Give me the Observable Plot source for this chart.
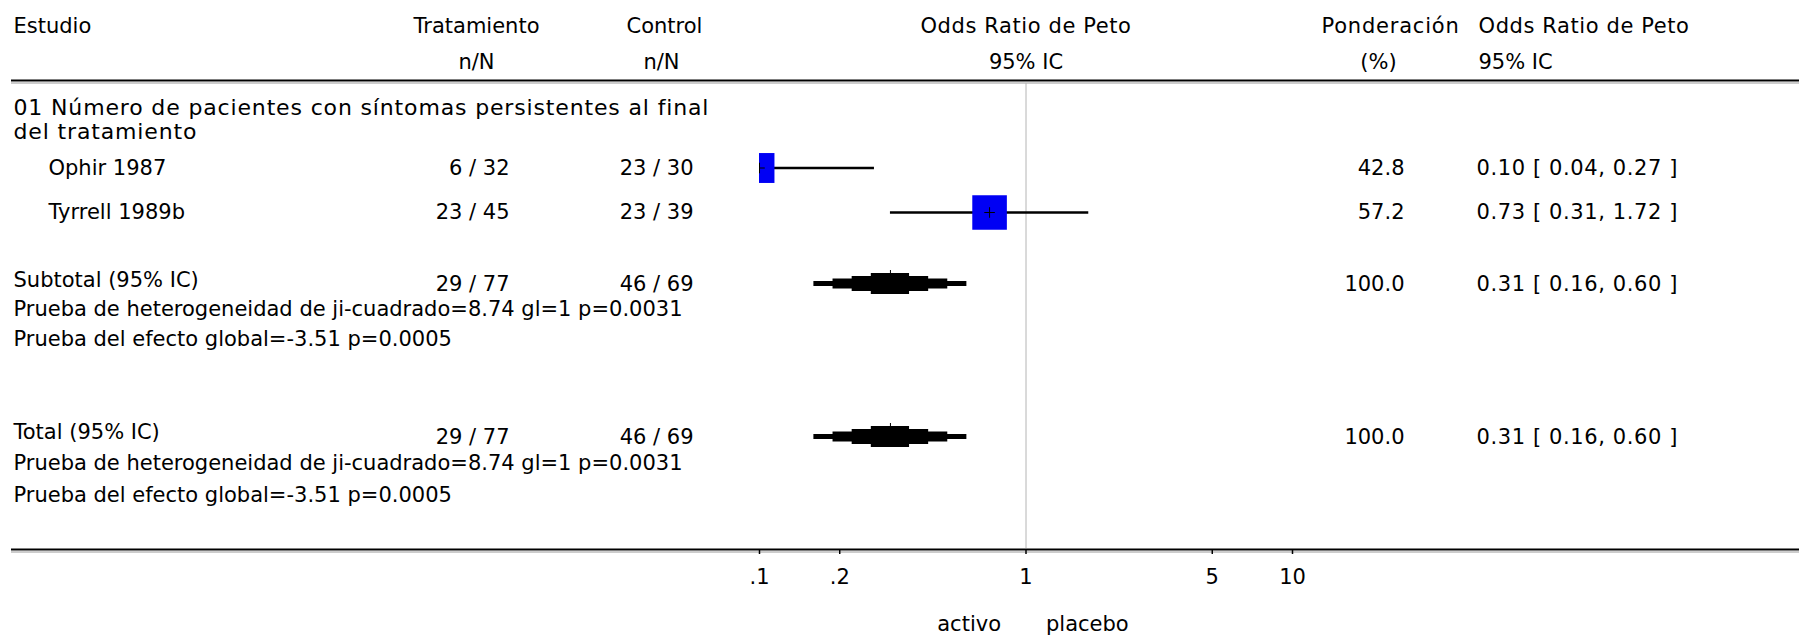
<!DOCTYPE html>
<html>
<head>
<meta charset="utf-8">
<script src="https://cdn.jsdelivr.net/npm/d3@7"></script>
<script src="https://cdn.jsdelivr.net/npm/@observablehq/plot@0.6"></script>
<style>
  html, body { margin: 0; padding: 0; background: #fff; }
  #chart svg { display: block; background: linear-gradient(to right, #808080 0, #808080 11px, #ffffff 11px); }
</style>
</head>
<body>
<div id="chart"></div>
<script>
// ---------- DATA ----------
const studies      = ["Ophir 1987", "Tyrrell 1989b"];
const treatEvents  = [6, 23];
const treatTotal   = [32, 45];
const ctrlEvents   = [23, 23];
const ctrlTotal    = [30, 39];
const weights      = [42.8, 57.2];
const oddsRatio    = [0.10, 0.73];
const ciLow        = [0.04, 0.31];
const ciHigh       = [0.27, 1.72];

const pooledLabels      = ["Subtotal (95% IC)", "Total (95% IC)"];
const pooledTreatEvents = [29, 29];
const pooledTreatTotal  = [77, 77];
const pooledCtrlEvents  = [46, 46];
const pooledCtrlTotal   = [69, 69];
const pooledWeight      = [100.0, 100.0];
const pooledOR          = [0.31, 0.31];
const pooledLow         = [0.16, 0.16];
const pooledHigh        = [0.60, 0.60];
const hetChi2 = ["8.74", "8.74"], hetDf = ["1", "1"], hetP = ["0.0031", "0.0031"];
const effZ = ["-3.51", "-3.51"], effP = ["0.0005", "0.0005"];

const sectionTitle = ["01 Número de pacientes con síntomas persistentes al final", "del tratamiento"];
const headerLine1 = ["Estudio", "Tratamiento", "Control", "Odds Ratio de Peto", "Ponderación", "Odds Ratio de Peto"];
const headerLine2 = ["", "n/N", "n/N", "95% IC", "(%)", "95% IC"];

const tickValues = [0.1, 0.2, 1, 5, 10];
const tickLabels = [".1", ".2", "1", "5", "10"];
const sideLabels = ["activo", "placebo"];

// ---------- LAYOUT ----------
const W = 1799, H = 638;
const ML = 759, MR = 507, MB = 89;           // frame = forest plot area (clip region)
const ROW = {
  h1: 26, h2: 62, topRule: 80,
  sec: [107, 131],
  study: [167.5, 212],
  pooledLabel: [280, 432], pooled: [283.5, 436.5],
  het: [309, 463], eff: [339, 495],
  axis: 549, side: 624
};
const COL = { left: 13, study: 48, treatHead: 476, treat: 509, ctrlHead: 664, ctrlSub: 661, ctrl: 693,
              weightHead: 1390, weightSub: 1378, weight: 1404, orHead: 1478, orText: 1476 };
const at = px => px - ML;
const FONT = "DejaVu Sans";
const FS = 21;

const fmtOR = (o, l, h) => `${o.toFixed(2)} [ ${l.toFixed(2)}, ${h.toFixed(2)} ]`;

const studyRows = studies.map((s, i) => ({
  label: s, treat: `${treatEvents[i]} / ${treatTotal[i]}`, ctrl: `${ctrlEvents[i]} / ${ctrlTotal[i]}`,
  w: weights[i], wText: weights[i].toFixed(1), or: oddsRatio[i], lo: ciLow[i], hi: ciHigh[i],
  orText: fmtOR(oddsRatio[i], ciLow[i], ciHigh[i]), y: ROW.study[i]
}));
const pooledRows = pooledLabels.map((s, i) => ({
  label: s, treat: `${pooledTreatEvents[i]} / ${pooledTreatTotal[i]}`, ctrl: `${pooledCtrlEvents[i]} / ${pooledCtrlTotal[i]}`,
  wText: pooledWeight[i].toFixed(1), or: pooledOR[i], lo: pooledLow[i], hi: pooledHigh[i],
  orText: fmtOR(pooledOR[i], pooledLow[i], pooledHigh[i]),
  yl: ROW.pooledLabel[i], y: ROW.pooled[i],
  het: `Prueba de heterogeneidad de ji-cuadrado=${hetChi2[i]} gl=${hetDf[i]} p=${hetP[i]}`, yh: ROW.het[i],
  eff: `Prueba del efecto global=${effZ[i]} p=${effP[i]}`, ye: ROW.eff[i]
}));
// stepped diamond glyph: half-heights (px) per step, from tip to centre
const stepHalf = [2.5, 5, 7.5, 10.5];
const diamonds = pooledRows.flatMap((d, g) => {
  const L = Math.log(d.lo), C = Math.log(d.or), R = Math.log(d.hi);
  const pts = [];
  for (let k = 0; k < 4; k++) pts.push({ g, x: Math.exp(L + (C - L) * k / 4), h: stepHalf[k] });
  for (let k = 1; k < 4; k++) pts.push({ g, x: Math.exp(C + (R - C) * k / 4), h: stepHalf[3 - k] });
  pts.push({ g, x: d.hi, h: stepHalf[0] });
  return pts.map(p => ({ ...p, y1: d.y - p.h, y2: d.y + p.h }));
});
const tickMap = new Map(tickValues.map((v, i) => [v, tickLabels[i]]));

const txt = (data, o) => Plot.text(data, { frameAnchor: "left", fontFamily: FONT, fontSize: FS, fill: "black", ...o });

const chart = Plot.plot({
  width: W, height: H,
  marginLeft: ML, marginRight: MR, marginTop: 0, marginBottom: MB,
  style: { fontFamily: FONT, fontSize: FS + "px", background: "transparent", overflow: "visible" },
  x: { type: "log", domain: [0.1, 10], range: [ML, W - MR], axis: null },
  y: { type: "linear", domain: [0, H], range: [0, H], axis: null },
  r: { type: "sqrt", domain: [0, 100], range: [0, 25.8] },
  marks: [
    // rules
    Plot.ruleY([ROW.topRule], { stroke: "black", strokeWidth: 2, insetLeft: -(ML - 11), insetRight: -MR }),
    Plot.ruleY([ROW.topRule + 2.5], { stroke: "#9a9a9a", strokeWidth: 1, insetLeft: -(ML - 11), insetRight: -MR }),
    Plot.ruleX([1], { y1: ROW.topRule + 3, y2: ROW.axis - 1, stroke: "#b4b4b4", strokeWidth: 1 }),
    Plot.ruleY([ROW.axis], { stroke: "black", strokeWidth: 2, insetLeft: -(ML - 11), insetRight: -MR }),
    Plot.ruleY([ROW.axis + 2.5], { stroke: "#9a9a9a", strokeWidth: 1, insetLeft: -(ML - 11), insetRight: -MR }),
    // study CIs, squares and centre marks
    Plot.ruleY(studyRows, { y: "y", x1: "lo", x2: "hi", stroke: "black", strokeWidth: 2.5, clip: "frame" }),
    Plot.dot(studyRows, { x: "or", y: "y", r: "w", symbol: "square", fill: "#0000f4", stroke: "none", clip: "frame" }),
    Plot.dot(studyRows, { x: "or", y: "y", r: 3.5, symbol: "plus", stroke: "black", strokeWidth: 1, fill: "none", clip: "frame" }),
    // pooled diamonds
    Plot.areaY(diamonds, { x: "x", y1: "y1", y2: "y2", z: "g", fill: "black", curve: "step-after" }),
    Plot.ruleX(pooledRows, { x: "or", y1: d => d.y - 13.5, y2: d => d.y, stroke: "black", strokeWidth: 1 }),
    // axis
    Plot.axisX({ anchor: "bottom", ticks: tickValues, tickFormat: d => tickMap.get(d), tickSize: 5, tickPadding: 15,
                 stroke: "black", strokeWidth: 1.5, fontSize: FS, fontFamily: FONT, fill: "black", label: null }),
    Plot.text([sideLabels[0]], { x: 1, y: ROW.side, dx: -25, textAnchor: "end", fontFamily: FONT, fontSize: FS }),
    Plot.text([sideLabels[1]], { x: 1, y: ROW.side, dx: 20, textAnchor: "start", fontFamily: FONT, fontSize: FS }),
    // headers
    txt([headerLine1[0]], { y: ROW.h1, dx: at(COL.left), textAnchor: "start" }),
    txt([headerLine1[1]], { y: ROW.h1, dx: at(COL.treatHead), textAnchor: "middle" }),
    txt([headerLine2[1]], { y: ROW.h2, dx: at(COL.treatHead), textAnchor: "middle" }),
    txt([headerLine1[2]], { y: ROW.h1, dx: at(COL.ctrlHead), textAnchor: "middle" }),
    txt([headerLine2[2]], { y: ROW.h2, dx: at(COL.ctrlSub), textAnchor: "middle" }),
    Plot.text([headerLine1[3]], { x: 1, y: ROW.h1, textAnchor: "middle", fontFamily: FONT, fontSize: FS }),
    Plot.text([headerLine2[3]], { x: 1, y: ROW.h2, textAnchor: "middle", fontFamily: FONT, fontSize: FS }),
    txt([headerLine1[4]], { y: ROW.h1, dx: at(COL.weightHead), textAnchor: "middle" }),
    txt([headerLine2[4]], { y: ROW.h2, dx: at(COL.weightSub), textAnchor: "middle" }),
    txt([headerLine1[5]], { y: ROW.h1, dx: at(COL.orHead), textAnchor: "start" }),
    txt([headerLine2[5]], { y: ROW.h2, dx: at(COL.orHead), textAnchor: "start" }),
    // section title
    txt(sectionTitle, { y: (d, i) => ROW.sec[i], dx: at(COL.left), textAnchor: "start", fontSize: 22 }),
    // study rows
    txt(studyRows, { y: "y", text: "label", dx: at(COL.study), textAnchor: "start" }),
    txt(studyRows, { y: "y", text: "treat", dx: at(COL.treat), textAnchor: "end" }),
    txt(studyRows, { y: "y", text: "ctrl", dx: at(COL.ctrl), textAnchor: "end" }),
    txt(studyRows, { y: "y", text: "wText", dx: at(COL.weight), textAnchor: "end" }),
    txt(studyRows, { y: "y", text: "orText", dx: at(COL.orText), textAnchor: "start" }),
    // pooled rows
    txt(pooledRows, { y: "yl", text: "label", dx: at(COL.left), textAnchor: "start" }),
    txt(pooledRows, { y: "y", text: "treat", dx: at(COL.treat), textAnchor: "end" }),
    txt(pooledRows, { y: "y", text: "ctrl", dx: at(COL.ctrl), textAnchor: "end" }),
    txt(pooledRows, { y: "y", text: "wText", dx: at(COL.weight), textAnchor: "end" }),
    txt(pooledRows, { y: "y", text: "orText", dx: at(COL.orText), textAnchor: "start" }),
    txt(pooledRows, { y: "yh", text: "het", dx: at(COL.left), textAnchor: "start" }),
    txt(pooledRows, { y: "ye", text: "eff", dx: at(COL.left), textAnchor: "start" })
  ]
});
// letter spacing tweaks (text style only)
const spaced = new Map([
  ...sectionTitle.map(t => [t, "0.85px"]),
  [headerLine1[3], "0.6px"], [headerLine1[4], "0.8px"],
  ...studyRows.map(d => [d.orText, "0.6px"]),
  ...pooledRows.map(d => [d.orText, "0.6px"])
]);
chart.querySelectorAll("text").forEach(t => {
  const s = spaced.get(t.textContent);
  if (s) t.style.letterSpacing = s;
});
document.getElementById("chart").appendChild(chart);
</script>
</body>
</html>
